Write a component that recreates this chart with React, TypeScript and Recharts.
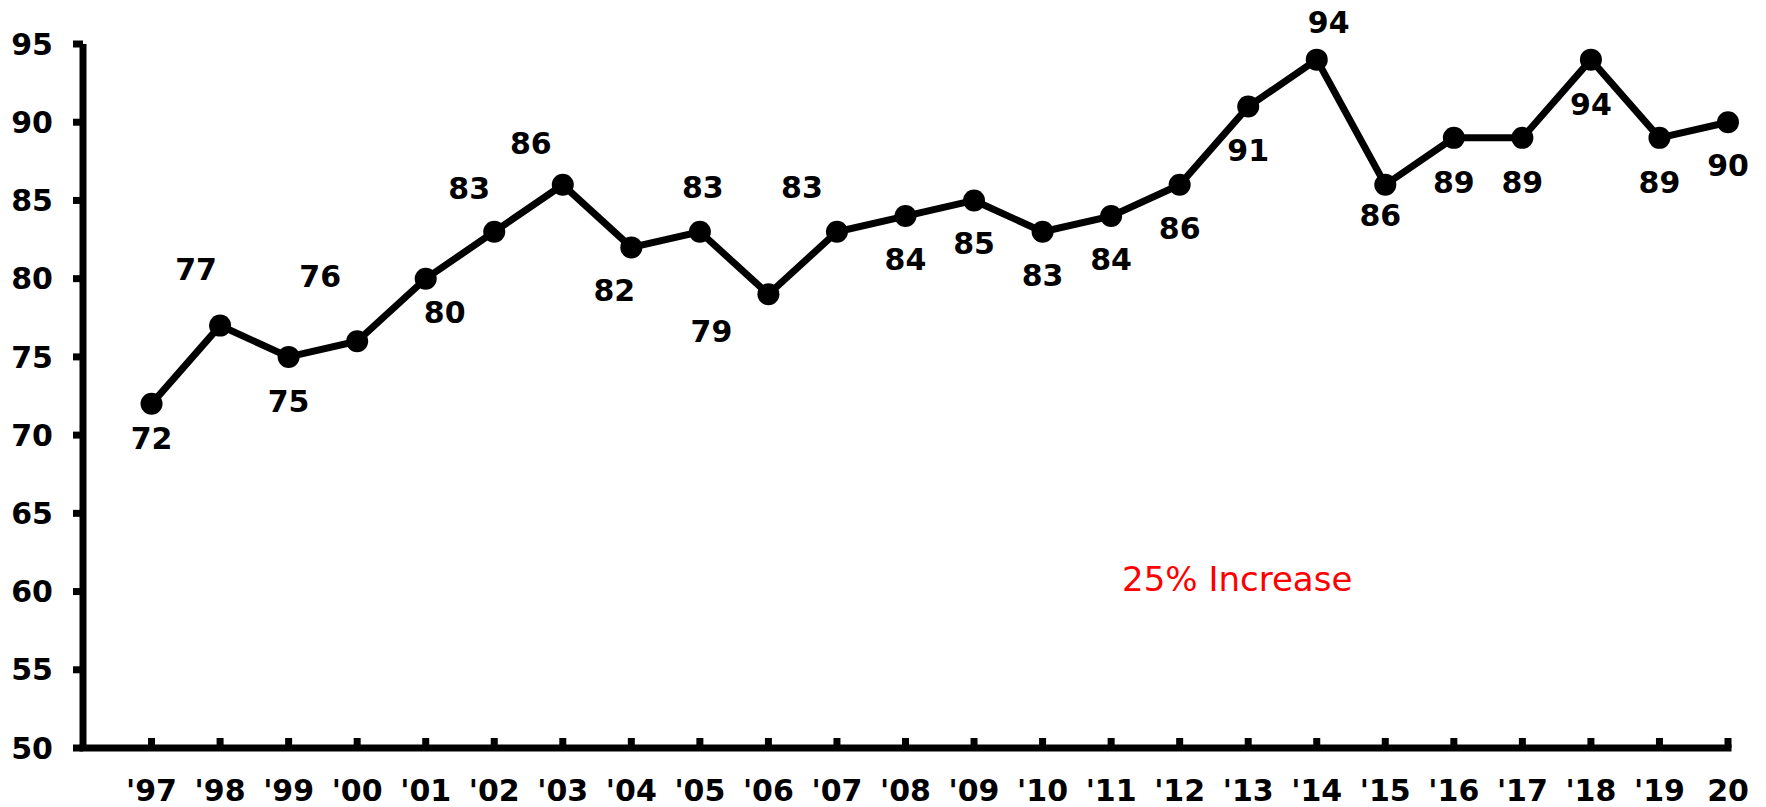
import { LabelList, Line, LineChart, ReferenceDot, XAxis, YAxis } from 'recharts'

const years = [
  "'97", "'98", "'99", "'00", "'01", "'02", "'03", "'04", "'05", "'06", "'07", "'08",
  "'09", "'10", "'11", "'12", "'13", "'14", "'15", "'16", "'17", "'18", "'19", '20',
]
const scores = [72, 77, 75, 76, 80, 83, 86, 82, 83, 79, 83, 84, 85, 83, 84, 86, 91, 94, 86, 89, 89, 94, 89, 90]
const yTicks = [50, 55, 60, 65, 70, 75, 80, 85, 90, 95]

// where each value label sits relative to its point (dx, dy)
const labelOffsets: [number, number][] = [
  [0, 34], [-24, -56], [0, 44], [-37, -65], [19, 34], [-25, -44], [-32, -42], [-17, 43],
  [3, -45], [-57, 37], [-35, -45], [0, 43], [0, 43], [0, 43], [0, 43], [0, 43],
  [0, 44], [12, -37], [-5, 30], [0, 44], [0, 44], [0, 45], [0, 44], [0, 43],
]

const font = 'DejaVu Sans, Verdana, sans-serif'

const chartData = years.map((year, i) => ({ year, score: scores[i] }))

function YearTick({ x, y, payload }: any) {
  const axisY = y - 32
  return (
    <g>
      <line x1={x} x2={x} y1={axisY} y2={axisY - 10} stroke="#000" strokeWidth={7} />
      <text x={x} y={y} dy="0.71em" textAnchor="middle" fill="#000" fontSize={30} fontWeight="bold" fontFamily={font}>
        {payload.value}
      </text>
    </g>
  )
}

function ValueLabel({ x, y, value, index }: any) {
  const [dx, dy] = labelOffsets[index] ?? [0, 40]
  return (
    <text x={x + dx} y={y + dy} dy="0.36em" textAnchor="middle" fill="#000" fontSize={30} fontWeight="bold" fontFamily={font}>
      {value}
    </text>
  )
}

function NoteLabel({ viewBox }: any) {
  const cx = viewBox.x + viewBox.width / 2
  const cy = viewBox.y + viewBox.height / 2
  return (
    <text x={cx - 11} y={cy} dy="0.36em" textAnchor="middle" fill="#ff0000" fontSize={34} fontFamily={font}>
      25% Increase
    </text>
  )
}

export default function App() {
  return (
    <div style={{ position: 'absolute', left: 0, top: 0, background: '#fff' }}>
      <LineChart width={1766} height={807} data={chartData} margin={{ top: 44, right: 38, left: 0, bottom: 0 }}>
        <XAxis
          dataKey="year"
          height={59}
          padding={{ left: 68.54, right: 0 }}
          axisLine={{ stroke: '#000', strokeWidth: 7, strokeLinecap: 'square' }}
          tickLine={false}
          tickSize={0}
          tickMargin={32}
          interval={0}
          tick={<YearTick />}
        />
        <YAxis
          width={83}
          domain={[50, 95]}
          ticks={yTicks}
          interval={0}
          axisLine={{ stroke: '#000', strokeWidth: 7 }}
          tickLine={{ stroke: '#000', strokeWidth: 7 }}
          tickSize={10}
          tickMargin={20}
          tick={{ fill: '#000', fontSize: 30, fontWeight: 'bold', fontFamily: font }}
        />
        <Line
          dataKey="score"
          stroke="#000"
          strokeWidth={7}
          dot={{ r: 11, fill: '#000', stroke: '#000', strokeWidth: 0 }}
          isAnimationActive={false}
        >
          <LabelList dataKey="score" content={<ValueLabel />} />
        </Line>
        <ReferenceDot x="'13" y={60.8} r={0} fill="none" stroke="none" label={<NoteLabel />} />
      </LineChart>
    </div>
  )
}
